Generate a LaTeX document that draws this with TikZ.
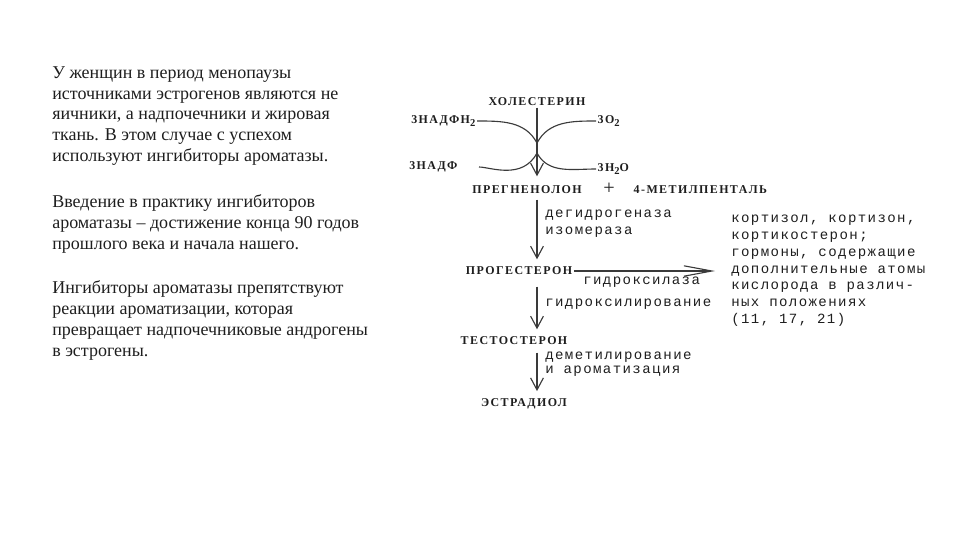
\documentclass[tikz,border=0pt]{standalone}
\usepackage{fontspec}
\setmainfont{Liberation Serif}
\newfontfamily\capsf[LetterSpace=12]{Liberation Serif}
\newfontfamily\monof[LetterSpace=10]{Liberation Mono}
\usetikzlibrary{arrows.meta}
\definecolor{inkc}{HTML}{1E1E1E}
\definecolor{linec}{HTML}{3A3A3A}
\newcommand\lowtwo{\raisebox{-2.2pt}{\fontsize{7.5}{7.5}\selectfont 2}}
\tikzset{
  ln/.style={linec,line width=0.8pt},
  ar/.style={ln,-{Straight Barb[length=3mm,width=3.2mm,line width=0.8pt]}},
  har/.style={ln,-{Straight Barb[length=7mm,width=2.6mm,line width=0.8pt]}},
  cmp/.style={inner sep=1pt,text=inkc,font=\capsf\bfseries\fontsize{8.5}{10}\selectfont},
  enz/.style={inner sep=0pt,anchor=west,align=left,text=inkc,font=\monof\fontsize{10}{12}\selectfont},
  para/.style={inner sep=0pt,anchor=north west,align=left,text=inkc,font=\fontsize{12.8}{14.9}\selectfont}
}
\begin{document}
\begin{tikzpicture}[x=0.025cm,y=-0.025cm]
\useasboundingbox (0,0) rectangle (960,540);
% text on the left
\node[para] (para1) at (52,66) {У женщин в период менопаузы\\источниками эстрогенов являются не\\яичники, а надпочечники и жировая\\ткань. В этом случае с успехом\\используют ингибиторы ароматазы.};
\node[para] (para2) at (52,194) {Введение в практику ингибиторов\\ароматазы -- достижение конца 90 годов\\прошлого века и начала нашего.};
\node[para] (para3) at (52,280) {Ингибиторы ароматазы препятствуют\\реакции ароматизации, которая\\превращает надпочечниковые андрогены\\в эстрогены.};
% scheme
\node[cmp] (chol) at (537,102) {ХОЛЕСТЕРИН};
\node[cmp,anchor=east] (nadph) at (477,121) {3НАДФН\lowtwo};
\node[cmp,anchor=west] (oxy) at (596,121) {3O\lowtwo};
\node[cmp,anchor=east] (nadp) at (459,167) {3НАДФ};
\node[cmp,anchor=west] (water) at (596,169) {3H\lowtwo O};
\coordinate (j1) at (537,143);
\coordinate (j2) at (537,153);
\node[cmp] (preg) at (527,190) {ПРЕГНЕНОЛОН};
\node[cmp,font=\Large] (plus) at (609,189) {+};
\node[cmp,anchor=west] (mpent) at (632,190) {4-МЕТИЛПЕНТАЛЬ};
\node[cmp] (prog) at (519,271) {ПРОГЕСТЕРОН};
\node[cmp] (test) at (514,341) {ТЕСТОСТЕРОН};
\node[cmp] (estr) at (524,404) {ЭСТРАДИОЛ};
\node[enz,anchor=north west,font=\monof\fontsize{10}{11.9}\selectfont] (prod) at (731,215) {кортизол, кортизон,\\кортикостерон;\\гормоны, содержащие\\дополнительные атомы\\кислорода в различ-\\ных положениях\\(11, 17, 21)};
\draw[ln] (nadph.east) to[out=0,in=118] (j1);
\draw[ln] (oxy.west) to[out=180,in=62] (j1);
\draw[ln,shorten >=0.5cm] (j2) to[out=242,in=0] (nadp.east);
\draw[ln] (j2) to[out=298,in=180] (water.west);
\draw[line width=1.6pt,linec] (j1) -- (j2);
\draw[ar,shorten >=0.2cm] (chol.south) -- (preg.north -| chol.south);
\draw[ar,shorten <=0.1cm,shorten >=0.15cm] (preg.south -| chol.south) -- (prog.north -| chol.south);
\draw[ar,shorten <=0.25cm,shorten >=0.15cm] (prog.south -| chol.south) -- (test.north -| chol.south);
\draw[ar,shorten <=0.15cm,shorten >=0.15cm] (test.south -| chol.south) -- (estr.north -| chol.south);
\draw[har,shorten >=0.4cm] (prog.east) -- (prog.east -| prod.west);
\node[enz,font=\monof\fontsize{10}{12}\selectfont] (enza) at (545,224) {дегидрогеназа\\изомераза};
\node[enz] (enzb) at (583,282) {гидроксилаза};
\node[enz] (enzc) at (545,304) {гидроксилирование};
\node[enz,font=\monof\fontsize{10}{9.5}\selectfont] (enzd) at (545,364) {деметилирование\\и ароматизация};
\end{tikzpicture}
\end{document}
